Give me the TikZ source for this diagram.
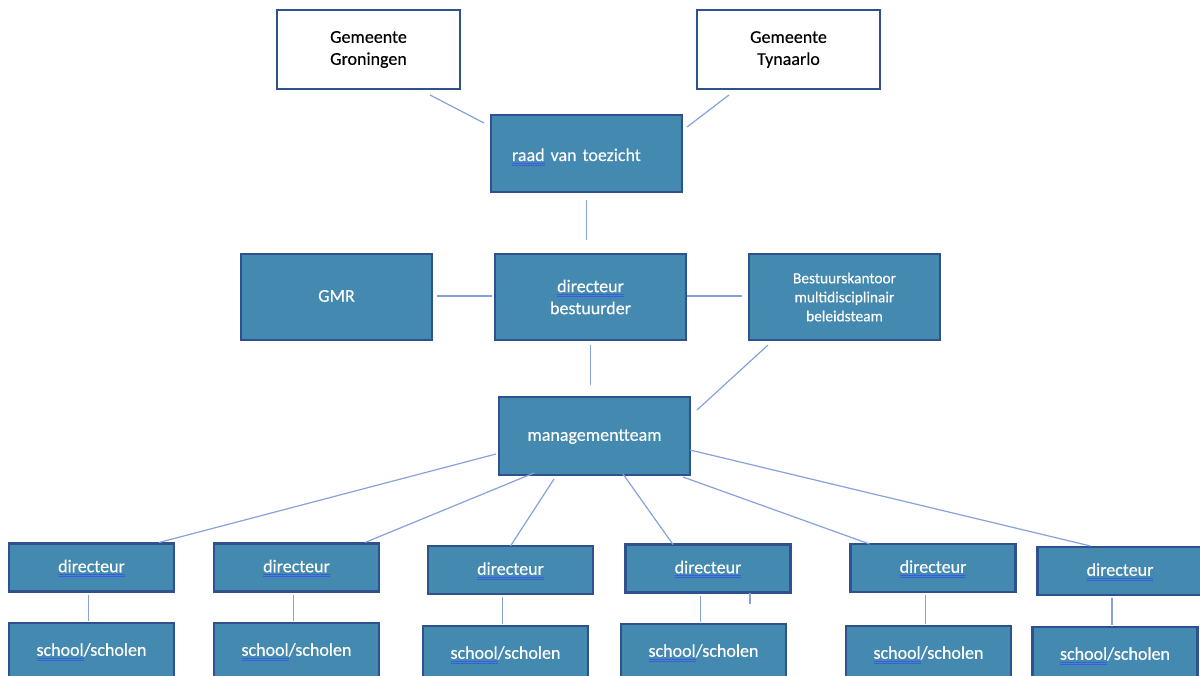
\documentclass[tikz,border=0pt]{standalone}
\usepackage{fontspec}
\setmainfont{Carlito}[FakeBold=0.3]
\usetikzlibrary{positioning,calc}
\definecolor{boxfill}{RGB}{68,137,176}
\definecolor{boxline}{RGB}{47,82,143}
\definecolor{linkblue}{RGB}{133,162,220}
\definecolor{spellblue}{RGB}{58,92,222}
\newcommand{\spellmark}[1]{\leavevmode\setbox0=\hbox{#1}%
  \rlap{\color{spellblue}\vrule width\wd0 height -2pt depth 3pt}%
  \rlap{\color{spellblue}\vrule width\wd0 height -4pt depth 5pt}\box0\relax}
\tikzset{
  orgbox/.style={draw=boxline, line width=2.5pt, fill=boxfill, text=white, inner sep=0pt, outer sep=0pt,
    minimum width=191pt, minimum height=86pt, align=center, font=\fontsize{18}{22}\selectfont},
  gembox/.style={orgbox, fill=white, text=black, minimum width=183pt, minimum height=79pt},
  smallbox/.style={orgbox, minimum width=165pt, minimum height=48pt, text height=13pt, text depth=3.5pt},
  link/.style={draw=linkblue, line width=1.2pt}
}

\begin{document}
\begin{tikzpicture}[x=1pt,y=-1pt]

\useasboundingbox (0,0) rectangle (1200,676);

\node[gembox] (groningen) at (368.5,49.5) {Gemeente\\Groningen};
\node[gembox] (tynaarlo) at (788.5,49.5) {Gemeente\\Tynaarlo};

\node[orgbox, minimum height=77pt, text width=149pt, align=left, inner xsep=21pt, text height=17pt, text depth=2pt] (raad) at (586.5,153.5) {\spellmark{raad} van toezicht};

\node[orgbox, text height=13pt, text depth=3.5pt] (gmr) at (336.5,297) {GMR};
\node[orgbox] (dirbest) at (590.5,297) {\spellmark{directeur}\\bestuurder};
\node[orgbox, font=\fontsize{15.4}{19}\selectfont] (kantoor) at (844.5,297) {Bestuurskantoor\\multidisciplinair\\beleidsteam};

\node[orgbox, minimum height=78pt, text height=13pt, text depth=3.5pt] (mt) at (594.5,436) {managementteam};

\foreach \i/\dx/\dy/\sx/\sy in {1/91.5/567.5/91.5/651, 2/296.5/567.5/296.5/651, 3/510.5/570/505.5/654,
  4/708/568.5/703.5/652, 5/933/568/928.5/654, 6/1120/571/1115/655}
{
\node[smallbox] (dir\i) at (\dx,\dy) {\spellmark{directeur}};
\node[smallbox, minimum height=56pt] (school\i) at (\sx,\sy) {\spellmark{school}/scholen};
\draw[link] ($(school\i.north |- dir\i.south)+(-3,3)$) -- ($(school\i.north)+(-3,-2)$);
}

\draw[link] ($(groningen.south)+(61.5,6)$) -- ($(raad.north west)+(-7,8)$);
\draw[link] ($(raad.north east)+(5,12)$) -- ($(tynaarlo.south west)+(32,6)$);
\draw[link] ($(raad.south)+(0,8)$) -- ($(raad.south |- dirbest.north)+(0,-14)$);

\draw[link] ($(gmr.east)+(5,-1)$) -- ($(dirbest.west)+(-3,-1)$);
\draw[link] ($(dirbest.east)+(1,-1)$) -- ($(kantoor.west)+(-7,-1)$);
\draw[link] ($(dirbest.south)+(0,5)$) -- ($(dirbest.south |- mt.north)+(0,-12)$);
\draw[link] ($(kantoor.south west)+(19,5)$) -- ($(mt.north east)+(7,13)$);

\draw[link] ($(mt.south west)+(-3,-21)$) -- ($(dir1.north east)+(-15,-1)$);
\draw[link] ($(mt.south west)+(35,-2)$) -- ($(dir2.north east)+(-14,-1)$);
\draw[link] ($(mt.south)+(-40.5,4)$) -- (dir3.north);
\draw[link] ($(mt.south)+(28.5,-1)$) -- ($(dir4.north)+(-35,0)$);
\draw[link] ($(mt.south east)+(-7,2)$) -- ($(dir5.north west)+(19,0)$);
\draw[link] ($(mt.east)+(0,14)$) -- ($(dir6.north west)+(53,-1)$);

\draw[link] ($(dir4.south)+(42,0)$) -- ++(0,11);

\end{tikzpicture}
\end{document}
